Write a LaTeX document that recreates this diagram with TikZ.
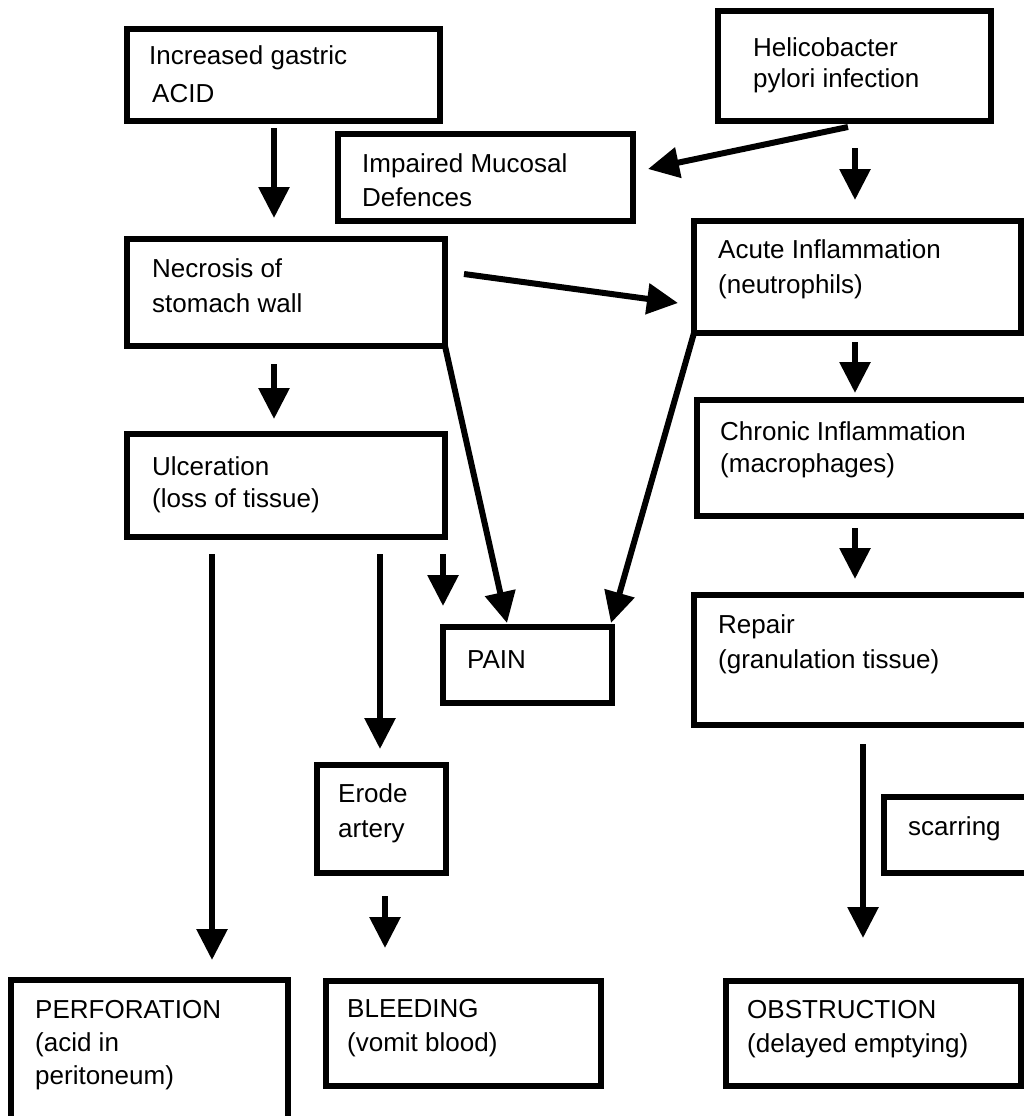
\documentclass[tikz,border=0pt]{standalone}
\usepackage{fontspec}
\setmainfont{Liberation Sans}
\usetikzlibrary{arrows.meta}
\begin{document}
\begin{tikzpicture}[x=1pt,y=-1pt,
  box/.style={draw=black, line width=5.5pt, inner sep=0pt, outer sep=0pt, anchor=north west},
  lbl/.style={anchor=base west, inner sep=0pt, font=\fontsize{26}{31}\selectfont},
  arr/.style={line width=6pt, -{Triangle[length=31pt,width=30pt]}},
]
\useasboundingbox (0,0) rectangle (1024,1116);
\fill[white] (0,0) rectangle (1024,1116);
\clip (0,0) rectangle (1024,1116);

% boxes
\node[box, minimum width=313pt, minimum height=92pt]  (acid)   at (127,29)  {};
\node[box, minimum width=273pt, minimum height=110pt] (helico) at (718,11)  {};
\node[box, minimum width=295pt, minimum height=87pt]  (impair) at (338,134) {};
\node[box, minimum width=318pt, minimum height=107pt] (necro)  at (127,239) {};
\node[box, minimum width=327pt, minimum height=112pt] (acute)  at (694,221) {};
\node[box, minimum width=318pt, minimum height=103pt] (ulcer)  at (127,434) {};
\node[box, minimum width=333pt, minimum height=116pt] (chron)  at (697,400) {};
\node[box, minimum width=169pt, minimum height=76pt]  (pain)   at (443,627) {};
\node[box, minimum width=336pt, minimum height=130pt] (repair) at (694,595) {};
\node[box, minimum width=129pt, minimum height=108pt] (erode)  at (317,765) {};
\node[box, minimum width=146pt, minimum height=76pt]  (scar)   at (884,797) {};
\node[box, minimum width=277pt, minimum height=150pt] (perf)   at (11,980)  {};
\node[box, minimum width=275pt, minimum height=105pt] (bleed)  at (326,981) {};
\node[box, minimum width=295pt, minimum height=105pt] (obstr)  at (726,981) {};

% texts
\node[lbl] (acidA)   at (149,64)  {Increased gastric};
\node[lbl] (acidB)   at (152,102) {ACID};
\node[lbl] (helA)    at (753,57)  {Helicobacter};
\node[lbl] (helB)    at (753,87)  {pylori infection};
\node[lbl] (impA)    at (362,172) {Impaired Mucosal};
\node[lbl] (impB)    at (362,206) {Defences};
\node[lbl] (necA)    at (152,277) {Necrosis of};
\node[lbl] (necB)    at (152,312) {stomach wall};
\node[lbl] (acuA)    at (718,258) {Acute Inflammation};
\node[lbl] (acuB)    at (718,293) {(neutrophils)};
\node[lbl] (ulcA)    at (152,475) {Ulceration};
\node[lbl] (ulcB)    at (152,507) {(loss of tissue)};
\node[lbl] (chrA)    at (720,440) {Chronic Inflammation};
\node[lbl] (chrB)    at (720,472) {(macrophages)};
\node[lbl] (painA)   at (467,668) {PAIN};
\node[lbl] (repA)    at (718,633) {Repair};
\node[lbl] (repB)    at (718,668) {(granulation tissue)};
\node[lbl] (eroA)    at (338,802) {Erode};
\node[lbl] (eroB)    at (338,837) {artery};
\node[lbl] (scarA)   at (908,835) {scarring};
\node[lbl] (perA)    at (35,1018) {PERFORATION};
\node[lbl] (perB)    at (35,1051) {(acid in};
\node[lbl] (perC)    at (35,1084) {peritoneum)};
\node[lbl] (bleA)    at (347,1017) {BLEEDING};
\node[lbl] (bleB)    at (347,1051) {(vomit blood)};
\node[lbl] (obsA)    at (747,1018) {OBSTRUCTION};
\node[lbl] (obsB)    at (747,1052) {(delayed emptying)};

% connector end points
\coordinate (a1s) at (274,128);  \coordinate (a1e) at (274,218);
\coordinate (a2s) at (848,127);  \coordinate (a2e) at (648,169);
\coordinate (a3s) at (855,148);  \coordinate (a3e) at (855,200);
\coordinate (a4s) at (464,274);  \coordinate (a4e) at (678,303);
\coordinate (a5e) at (507,623);
\coordinate (a6e) at (611,623);
\coordinate (a7s) at (855,342);  \coordinate (a7e) at (855,393);
\coordinate (a8s) at (274,364);  \coordinate (a8e) at (274,419);
\coordinate (a9s) at (855,528);  \coordinate (a9e) at (855,579);
\coordinate (a10s) at (212,554); \coordinate (a10e) at (212,960);
\coordinate (a11s) at (380,554); \coordinate (a11e) at (380,749);
\coordinate (a12s) at (443,554); \coordinate (a12e) at (443,606);
\coordinate (a13s) at (385,896); \coordinate (a13e) at (385,948);
\coordinate (a14s) at (863,744); \coordinate (a14e) at (863,938);

% connectors
\draw[arr] (a1s) -- (a1e);
\draw[arr] (a2s) -- (a2e);
\draw[arr] (a3s) -- (a3e);
\draw[arr] (a4s) -- (a4e);
\draw[arr] (necro.south east) -- (a5e);
\draw[arr] (acute.south west) -- (a6e);
\draw[arr] (a7s) -- (a7e);
\draw[arr] (a8s) -- (a8e);
\draw[arr] (a9s) -- (a9e);
\draw[arr] (a10s) -- (a10e);
\draw[arr] (a11s) -- (a11e);
\draw[arr] (a12s) -- (a12e);
\draw[arr] (a13s) -- (a13e);
\draw[arr] (a14s) -- (a14e);
\end{tikzpicture}
\end{document}
